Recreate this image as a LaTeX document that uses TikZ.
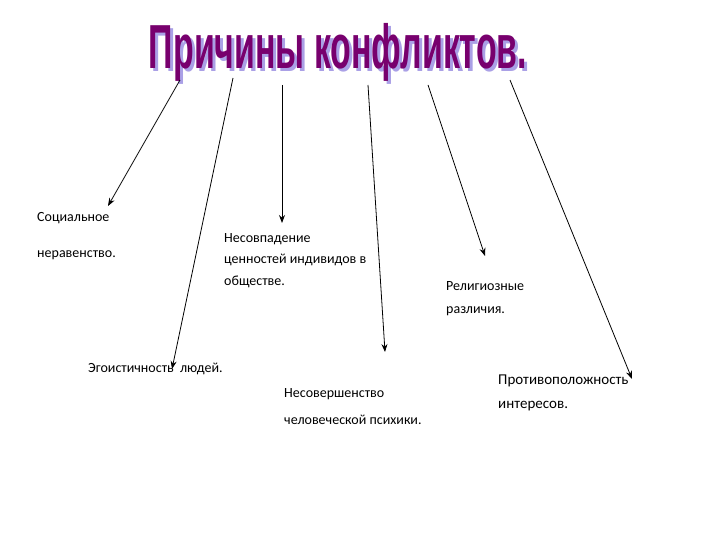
\documentclass[tikz,border=0pt]{standalone}
\usepackage{fontspec}
\usepackage{graphicx}
\usetikzlibrary{arrows.meta}
\setmainfont{Carlito}
\newfontfamily\titlefont{Liberation Sans}
\definecolor{ttl}{RGB}{120,0,110}
\definecolor{shd}{RGB}{170,160,230}
\begin{document}
\begin{tikzpicture}[x=1pt,y=-1pt,
  lbl/.style={anchor=north west,inner sep=0pt,align=left,font=\fontsize{14}{22}\selectfont},
  arr/.style={-{Stealth[length=8pt,width=6pt]},line width=0.8pt}]
\fill[white] (0,0) rectangle (720,540);
\node[shd,inner sep=0pt] at (341,55) {\resizebox*{378pt}{58pt}{\titlefont\bfseries Причины конфликтов.}};
\node[ttl,inner sep=0pt] (t) at (338,52) {\resizebox*{378pt}{58pt}{\titlefont\bfseries Причины конфликтов.}};
\coordinate (s1) at (180,80); \coordinate (s2) at (233,78); \coordinate (s3) at (282,85);
\coordinate (s4) at (368,85); \coordinate (s5) at (428,85); \coordinate (s6) at (510,80);
\coordinate (e1) at (108,206); \coordinate (e2) at (172,369); \coordinate (e3) at (282,223);
\coordinate (e4) at (385,352); \coordinate (e5) at (485,256); \coordinate (e6) at (632,379);
\foreach \i in {1,...,6} \draw[arr] (s\i) -- (e\i);
\node[lbl] (a) at (37,212) {Социальное};
\node[lbl] (b) at (37,250) {неравенство.};
\node[lbl,font=\fontsize{14}{21.5}\selectfont] (c) at (224,233) {Несовпадение\\ценностей индивидов в\\обществе.};
\node[lbl,font=\fontsize{14}{23}\selectfont] (d) at (446,281) {Религиозные\\различия.};
\node[lbl] (e) at (88,363) {Эгоистичность\ \ людей.};
\node[lbl,font=\fontsize{14}{27}\selectfont] (f) at (284,388) {Несовершенство\\человеческой психики.};
\node[lbl,font=\fontsize{15}{24}\selectfont] (g) at (498,375) {Противоположность\\интересов.};
\end{tikzpicture}
\end{document}
